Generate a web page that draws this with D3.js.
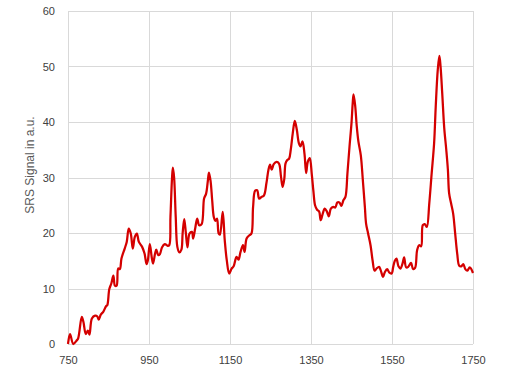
<!DOCTYPE html>
<html>
<head>
<meta charset="utf-8">
<script src="https://cdn.jsdelivr.net/npm/d3@7"></script>
<style>
    body { margin: 0; background: #fff; }
    svg text { font-family: "Liberation Sans", Arial, sans-serif; }
</style>
</head>
<body>
<div id="chart"></div>
<script>
// raman shift (x) and signal (y)
var shift = [
    750, 755, 763, 771, 775, 784, 788, 794, 799, 803, 809, 817, 822, 826, 831, 837, 844, 847,
    852, 857, 862, 866, 870, 874, 878, 882, 890, 895, 900, 905, 910, 915, 920, 925, 933, 939,
    944, 947, 952, 957, 960, 965, 968, 973, 977, 982, 989, 996, 1000, 1003, 1007, 1009, 1012,
    1016, 1020, 1025, 1030, 1033, 1037, 1041, 1045, 1050, 1056, 1059, 1064, 1069, 1074, 1080,
    1086, 1091, 1095, 1098, 1102, 1106, 1110, 1114, 1118, 1122, 1125, 1132, 1137, 1142, 1148,
    1154, 1159, 1166, 1171, 1176, 1182, 1186, 1191, 1198, 1203, 1207, 1212, 1217, 1222, 1228,
    1234, 1240, 1245, 1249, 1253, 1258, 1265, 1271, 1276, 1280, 1284, 1287, 1291, 1296, 1300,
    1305, 1310, 1315, 1320, 1324, 1329, 1334, 1338, 1342, 1347, 1352, 1356, 1360, 1365, 1370,
    1374, 1379, 1384, 1389, 1394, 1399, 1405, 1410, 1415, 1420, 1425, 1430, 1435, 1440, 1445,
    1450, 1453, 1455, 1459, 1463, 1467, 1473, 1478, 1483, 1486, 1491, 1497, 1502, 1507, 1512,
    1518, 1522, 1528, 1532, 1538, 1543, 1549, 1553, 1557, 1561, 1566, 1571, 1576, 1580, 1585,
    1590, 1597, 1602, 1607, 1612, 1617, 1622, 1626, 1631, 1636, 1642, 1648, 1654, 1658, 1663,
    1667, 1670, 1674, 1679, 1684, 1688, 1691, 1696, 1701, 1706, 1711, 1716, 1721, 1726, 1731,
    1736, 1742, 1750
];
var signal = [
    0.0, 1.8, 0.0, 0.6, 1.0, 4.9, 4.0, 1.8, 2.4, 1.7, 4.6, 5.1, 5.0, 4.4, 5.3, 5.8, 6.8, 7.0,
    9.9, 10.9, 12.3, 10.5, 10.5, 13.6, 13.5, 15.4, 17.2, 18.4, 20.8, 19.9, 17.2, 19.3, 19.9, 18.4, 17.5, 16.3,
    14.4, 15.0, 18.0, 15.5, 14.5, 16.3, 17.0, 16.0, 16.2, 17.4, 18.0, 17.7, 17.8, 22.9, 30.1, 31.8, 30.0,
    22.9, 17.5, 16.5, 17.0, 19.9, 22.5, 20.0, 17.4, 19.9, 20.2, 19.0, 20.8, 22.6, 21.4, 21.6,
    26.2, 27.1, 29.2, 30.9, 29.4, 25.9, 22.9, 22.2, 22.6, 19.9, 19.7, 23.8, 18.7, 15.1, 12.7,
    13.6, 14.0, 15.7, 15.2, 16.6, 17.8, 16.6, 19.0, 19.6, 19.9, 24.7, 27.6, 27.7, 26.2, 26.5,
    26.8, 29.0, 31.4, 32.3, 31.4, 32.4, 32.8, 32.5, 30.1, 28.3, 29.7, 32.5, 33.1, 33.4, 35.0,
    38.0, 40.2, 38.6, 36.2, 35.6, 36.5, 34.2, 30.8, 32.8, 33.5, 30.5, 27.5, 25.0, 24.2, 23.9,
    22.3, 23.5, 24.4, 23.9, 23.0, 24.4, 24.7, 24.6, 25.5, 25.5, 24.9, 25.9, 26.5, 30.8, 35.5,
    39.8, 43.4, 45.0, 43.0, 39.2, 36.5, 34.0, 29.5, 24.7, 21.7, 19.9, 17.8, 15.1, 13.2, 13.6,
    13.9, 13.3, 12.1, 12.9, 13.5, 12.9, 12.7, 13.9, 15.0, 15.4, 14.0, 13.6, 14.5, 15.6, 13.8,
    13.9, 14.6, 13.5, 13.7, 16.9, 17.8, 17.6, 21.4, 21.6, 21.1, 25.3, 30.8, 36.2, 42.8, 49.4,
    51.9, 49.9, 45.2, 38.9, 35.0, 31.4, 27.2, 25.3, 23.5, 19.9, 16.3, 14.1, 14.0, 14.4, 13.5,
    13.2, 13.8, 12.8
];
var xTicks = [750, 950, 1150, 1350, 1550, 1750];
var yTicks = [0, 10, 20, 30, 40, 50, 60];
var yTitle = "SRS Signal in a.u.";

var chart = (function () {
    'use strict';

    var width = 516, height = 367;
    var m = { left: 68, right: 473, top: 11, bottom: 344 };

    var svg = d3.select("#chart").append("svg")
        .attr("width", width)
        .attr("height", height);

    var x = d3.scaleLinear().domain([750, 1750]).range([m.left, m.right]);
    var y = d3.scaleLinear().domain([0, 60]).range([m.bottom, m.top]);

    // grid
    var grid = svg.append("g").attr("stroke", "#d9d9d9").attr("stroke-width", 1);
    grid.selectAll("line.v").data(xTicks).enter().append("line")
        .attr("class", "v")
        .attr("x1", function (d) { return Math.round(x(d)) + 0.5; })
        .attr("x2", function (d) { return Math.round(x(d)) + 0.5; })
        .attr("y1", m.top).attr("y2", m.bottom);
    grid.selectAll("line.h").data(yTicks).enter().append("line")
        .attr("class", "h")
        .attr("y1", function (d) { return Math.round(y(d)) + 0.5; })
        .attr("y2", function (d) { return Math.round(y(d)) + 0.5; })
        .attr("x1", m.left).attr("x2", m.right);

    // axes, labels only
    var xAxis = d3.axisBottom(x).tickValues(xTicks).tickFormat(d3.format("d"))
        .tickSize(0).tickPadding(12);
    svg.append("g")
        .attr("transform", "translate(0," + m.bottom + ")")
        .call(xAxis)
        .call(function (g) { g.select(".domain").remove(); })
        .selectAll("text")
        .attr("font-size", 11)
        .attr("fill", "#404040");

    var yAxis = d3.axisLeft(y).tickValues(yTicks).tickFormat(d3.format("d"))
        .tickSize(0).tickPadding(13);
    svg.append("g")
        .attr("transform", "translate(" + m.left + ",0)")
        .call(yAxis)
        .call(function (g) { g.select(".domain").remove(); })
        .selectAll("text")
        .attr("font-size", 11)
        .attr("fill", "#404040");

    svg.append("text")
        .attr("transform", "translate(34,165) rotate(-90)")
        .attr("text-anchor", "middle")
        .attr("font-size", 12)
        .attr("fill", "#595959")
        .text(yTitle);

    // the signal
    var data = shift.map(function (s, i) { return { x: s, y: signal[i] }; });
    var line = d3.line()
        .x(function (d) { return x(d.x); })
        .y(function (d) { return y(d.y); })
        .curve(d3.curveCatmullRom.alpha(0.5));

    svg.append("path")
        .datum(data)
        .attr("fill", "none")
        .attr("stroke", "#d40000")
        .attr("stroke-width", 2.25)
        .attr("stroke-linejoin", "round")
        .attr("d", line);

    return svg;
}());
</script>
</body>
</html>
